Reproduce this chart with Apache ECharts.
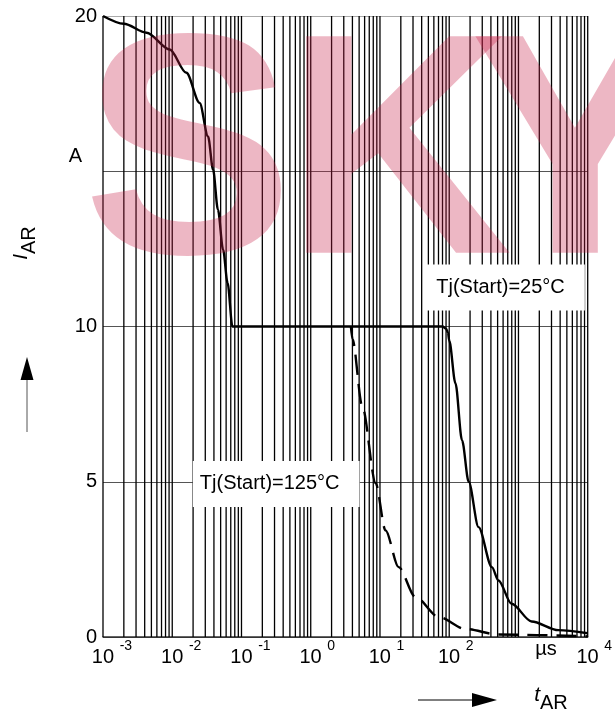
<!DOCTYPE html>
<html>
<head>
<meta charset="utf-8">
<script src="https://cdn.jsdelivr.net/npm/echarts@6/dist/echarts.min.js"></script>
<style>html,body{margin:0;padding:0;background:#fff}#c{width:615px;height:709px}</style>
</head>
<body>
<div id="c"></div>
<script>
// ---- data ----
const xTickExponents = ['-3', '-2', '-1', '0', '1', '2', '', '4']; // 10^-3 .. 10^4 (10^3 shows unit)
const xUnit = 'µs';
const yTicks = [0, 5, 10, 15, 20];
const yTickText = ['0', '5', '10', 'A', '20'];
const label25 = 'Tj(Start)=25°C';
const label125 = 'Tj(Start)=125°C';
// Tj(Start)=25°C  (solid)
const t25 = [0.001, 0.002, 0.00426, 0.0092, 0.016, 0.0249, 0.0329, 0.0389, 0.0457, 0.0543, 0.063, 0.074, 80, 90, 96, 100, 123, 153, 191, 265, 413, 515, 794, 1549, 3767, 10000];
const i25 = [20, 19.75, 19.46, 18.92, 18.17, 17.2, 16.12, 15.05, 13.76, 12.47, 11.4, 10, 10, 9.93, 9.8, 9.55, 8.17, 6.34, 5.0, 3.54, 2.25, 1.82, 1.07, 0.5, 0.22, 0.12];
// Tj(Start)=125°C (dashed)
const t125 = [3.8, 4.0, 5.56, 8.67, 12.0, 18.6, 32.4, 70.8, 170, 513, 10000];
const i125 = [10, 9.6, 7.42, 4.95, 3.44, 2.25, 1.29, 0.64, 0.26, 0.08, 0.02];
// label anchor positions (data coords)
const label25Pos = [629, 11.26];
const label125Pos = [0.317, 4.93];

// vertical grid positions (1..9 x 10^k)
const gridX = [];
for (let e = -3; e <= 3; e++) for (let m = 1; m <= 9; m++) gridX.push(+(m * Math.pow(10, e)).toPrecision(3));
gridX.push(10000);

const FF = '"Liberation Sans", Arial, sans-serif';
const chart = echarts.init(document.getElementById('c'), null, {renderer: 'canvas'});

const zip = (a, b) => a.map((v, i) => [v, b[i]]);

const supRich = {
  b: {fontSize: 20, fontFamily: FF, color: '#000'},
  s: {fontSize: 14, fontFamily: FF, color: '#000', padding: [0, 0, 22, 0]},
  sp2: {width: 18},
  sp1: {width: 13},
  u: {fontSize: 20, fontFamily: FF, color: '#000', padding: [0, 0, 0, 55]}
};
const WM = 'rgba(200,30,70,0.32)';

const option = {
  animation: false,
  backgroundColor: '#fff',
  grid: {left: 103, right: 26, top: 16, bottom: 72, containLabel: false},
  xAxis: {
    type: 'log', logBase: 10, min: 0.001, max: 10000, splitNumber: 7,
    axisLine: {show: true, lineStyle: {color: '#333', width: 1.5}},
    axisTick: {show: false},
    splitLine: {show: false},
    minorTick: {show: false},
    axisLabel: {
      margin: 2, fontFamily: FF, fontSize: 20, color: '#000',
      formatter: function (v) {
        const e = Math.round(Math.log10(v));
        const s = xTickExponents[e + 3];
        if (s === undefined) return '';
        if (s === '') return '{u|' + xUnit + '}';
        return '{sp' + (s.length > 1 ? '2' : '1') + '|}{b|10 }{s|' + s + '}';
      },
      rich: supRich
    }
  },
  yAxis: {
    type: 'value', min: 0, max: 20, interval: 5,
    axisLine: {show: false}, axisTick: {show: false},
    splitLine: {show: true, lineStyle: {color: ['#333', '#555', '#555', '#555', '#aaa'], width: 1}},
    axisLabel: {
      margin: 6, fontFamily: FF, fontSize: 20, color: '#000',
      formatter: function (v) {
        const t = yTickText[yTicks.indexOf(v)];
        return t === 'A' ? '{a|A}' : t;
      },
      rich: {a: {fontSize: 20, fontFamily: FF, color: '#000', padding: [0, 15, 30, 0]}}
    }
  },
  series: [
    {
      name: 'grid', type: 'custom', silent: true, z: 1,
      data: gridX.map(v => [v, 0]),
      encode: {x: 0, y: 1},
      renderItem: function (params, api) {
        const v = api.value(0);
        const p0 = api.coord([v, 0]);
        const p1 = api.coord([v, 20]);
        return {type: 'line', shape: {x1: p0[0], y1: p0[1], x2: p1[0], y2: p1[1]},
          style: {stroke: '#000', lineWidth: 1.3}};
      }
    },
    {
      name: label25, type: 'line', data: zip(t25, i25), showSymbol: false, symbol: 'none', z: 3,
      smooth: 0.3, smoothMonotone: 'x',
      lineStyle: {color: '#000', width: 2.4},
      markPoint: {
        z: 10, symbol: 'rect', symbolSize: 0, silent: true, animation: false,
        label: {show: true, position: 'inside', formatter: label25, fontFamily: FF, fontSize: 20, color: '#000',
          backgroundColor: '#fff', padding: [13, 20, 13, 12], lineHeight: 20},
        data: [{coord: label25Pos}]
      }
    },
    {
      name: label125, type: 'line', data: zip(t125, i125), showSymbol: false, symbol: 'none', z: 3,
      smooth: 0.3, smoothMonotone: 'x',
      lineStyle: {color: '#000', width: 2.4, type: [20, 9]},
      markPoint: {
        z: 10, symbol: 'rect', symbolSize: 0, silent: true, animation: false,
        label: {show: true, position: 'inside', formatter: label125, fontFamily: FF, fontSize: 20, color: '#000',
          backgroundColor: '#fff', padding: [13, 20, 13, 7], lineHeight: 20},
        data: [{coord: label125Pos}]
      }
    }
  ],
  graphic: [
    // watermark
    {type: 'text', x: 83, y: 166, z: 100, silent: true,
      style: {text: 'S', fontSize: 315, fontWeight: 'bold', fontFamily: FF, fill: WM, verticalAlign: 'middle', align: 'left'}},
    {type: 'text', x: 285, y: 166, z: 100, silent: true,
      style: {text: 'K', fontSize: 315, fontWeight: 'bold', fontFamily: FF, fill: WM, verticalAlign: 'middle', align: 'left'}},
    {type: 'text', x: 470, y: 166, z: 100, silent: true,
      style: {text: 'Y', fontSize: 315, fontWeight: 'bold', fontFamily: FF, fill: WM, verticalAlign: 'middle', align: 'left'}},
    // y axis title
    {type: 'text', x: 21, y: 243, rotation: Math.PI / 2, z: 50,
      style: {text: '{i|I}{s|AR}', align: 'center', verticalAlign: 'middle',
        rich: {i: {fontSize: 21, fontStyle: 'italic', fontFamily: FF, color: '#000'},
               s: {fontSize: 20, fontFamily: FF, color: '#000', padding: [16, 0, 0, 0]}}}},
    // x axis title
    {type: 'text', x: 551, y: 695, z: 50,
      style: {text: '{i|t}{s|AR}', align: 'center', verticalAlign: 'middle',
        rich: {i: {fontSize: 21, fontStyle: 'italic', fontFamily: FF, color: '#000'},
               s: {fontSize: 20, fontFamily: FF, color: '#000', padding: [16, 0, 0, 0]}}}},
    // arrows
    {type: 'line', z: 50, shape: {x1: 27, y1: 432, x2: 27, y2: 378}, style: {stroke: '#555', lineWidth: 1}},
    {type: 'polygon', z: 50, shape: {points: [[27, 357], [20.5, 380], [33.5, 380]]}, style: {fill: '#000'}},
    {type: 'line', z: 50, shape: {x1: 418, y1: 700, x2: 475, y2: 700}, style: {stroke: '#000', lineWidth: 1}},
    {type: 'polygon', z: 50, shape: {points: [[497, 700], [472, 693], [472, 707]]}, style: {fill: '#000'}}
  ]
};
chart.setOption(option);
</script>
</body>
</html>
